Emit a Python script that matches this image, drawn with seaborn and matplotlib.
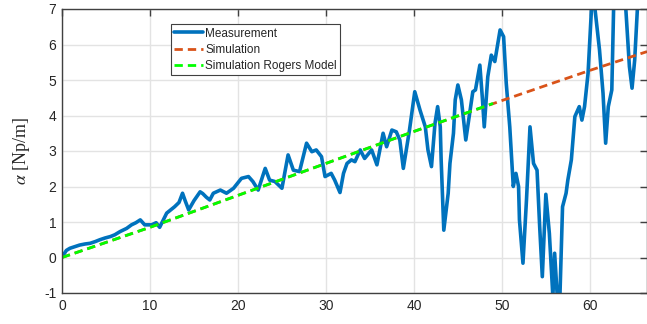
import numpy as np
import pandas as pd
import matplotlib
matplotlib.use("Agg")
import matplotlib.pyplot as plt
import seaborn as sns

meas_x = [0.0, 0.15, 0.5, 0.9, 1.4, 2.0, 2.6, 3.2, 3.8, 4.3, 4.9, 5.5, 6.0, 6.6, 7.35, 7.9, 8.4, 8.9,
          9.4, 10.2, 10.7, 11.1, 11.5, 11.9, 12.8, 13.3, 13.7, 14.0, 14.4, 15.0, 15.7, 16.0, 16.4, 16.8,
          17.2, 18.0, 18.7, 19.5, 20.4, 21.2, 21.7, 22.3, 23.1, 23.6, 24.2, 25.0, 25.7, 26.3, 27.0, 27.8,
          28.4, 28.9, 29.5, 29.9, 30.6, 31.0, 31.6, 32.0, 32.4, 32.9, 33.3, 33.9, 34.4, 35.2, 35.8, 36.5,
          36.9, 37.5, 38.0, 38.4, 38.8, 39.5, 40.1, 40.7, 41.3, 41.6, 42.0, 42.4, 42.7, 43.0, 43.1, 43.4,
          43.9, 44.1, 44.5, 44.7, 45.0, 45.4, 45.9, 46.4, 46.7, 47.0, 47.5, 47.8, 48.0, 48.4, 48.8, 49.2,
          49.8, 50.2, 50.5, 50.9, 51.3, 51.6, 51.9, 52.0, 52.4, 52.8, 53.2, 53.6, 54.0, 54.3, 54.6, 55.0,
          55.4, 55.8, 56.0, 56.3, 56.6, 56.9, 57.3, 57.5, 57.9, 58.3, 58.8, 59.1, 59.4, 59.8, 60.2, 60.4,
          60.6, 61.1, 61.5, 61.8, 62.1, 62.5, 62.7, 63.4, 64.1, 64.5, 64.8, 65.1, 65.4, 66.0, 66.5]
meas_y = [0.05, 0.07, 0.2, 0.26, 0.3, 0.35, 0.38, 0.4, 0.45, 0.5, 0.55, 0.59, 0.64, 0.73, 0.82, 0.92, 0.98, 1.06,
          0.92, 0.92, 0.98, 0.85, 1.05, 1.25, 1.43, 1.55, 1.81, 1.6, 1.34, 1.6, 1.85, 1.8, 1.7, 1.62,
          1.81, 1.9, 1.81, 1.95, 2.23, 2.28, 2.14, 1.9, 2.51, 2.18, 2.14, 1.95, 2.89, 2.46, 2.42, 3.22,
          2.98, 3.03, 2.84, 2.28, 2.37, 2.18, 1.83, 2.37, 2.65, 2.75, 2.7, 3.03, 2.79, 3.03, 2.61, 3.5,
          3.12, 3.59, 3.54, 3.31, 2.51, 3.59, 4.67, 4.15, 3.68, 3.03, 2.56, 3.78, 4.25, 3.68, 2.75, 0.77,
          1.81, 2.65, 3.5, 4.44, 4.86, 4.44, 3.31, 4.15, 4.67, 4.72, 5.42, 4.44, 3.68, 5.09, 5.7, 5.52,
          6.41, 6.22, 4.91, 3.68, 2.0, 2.37, 2.0, 1.06, -0.16, 1.62, 3.68, 2.65, 2.46, 0.87, -0.54, 1.78,
          0.68, -1.1, 0.12, -1.1, -1.1, 1.43, 1.81, 2.18, 2.75, 3.97, 4.25, 3.87, 4.25, 5.19, 7.06, 7.6,
          6.97, 5.85, 4.63, 3.22, 4.25, 4.72, 6.97, 8.0, 6.97, 5.38, 4.77, 5.56, 6.97, 7.8, 8.2]

# Simulation
sim_x = [0, 10, 20, 30, 40, 50, 60, 66.5]
sim_y = [0.0, 0.85, 1.75, 2.65, 3.55, 4.42, 5.27, 5.8]

# Simulation Rogers Model
rog_x = [0, 10, 20, 30, 40, 49]
rog_y = [0.0, 0.85, 1.75, 2.65, 3.55, 4.34]

xticks = [0, 10, 20, 30, 40, 50, 60]
yticks = [-1, 0, 1, 2, 3, 4, 5, 6, 7]

sns.set_style("white")
plt.rcParams['font.family'] = ['Liberation Sans', 'DejaVu Sans']
plt.rcParams['mathtext.fontset'] = 'stix'

fig = plt.figure(figsize=(6.47, 3.24), dpi=100)
ax = fig.add_axes([62 / 647, 31 / 324, 1.0 - 62 / 647, 284 / 324])

df_m = pd.DataFrame({"x": meas_x, "y": meas_y})
df_s = pd.DataFrame({"x": sim_x, "y": sim_y})
df_r = pd.DataFrame({"x": rog_x, "y": rog_y})

sns.lineplot(data=df_m, x="x", y="y", ax=ax, color="#0072BD", linewidth=2.6,
             estimator=None, sort=False, label="Measurement")
sns.lineplot(data=df_s, x="x", y="y", ax=ax, color="#D95319", linewidth=2.0,
             estimator=None, sort=False, label="Simulation", dashes=False)
sns.lineplot(data=df_r, x="x", y="y", ax=ax, color="#00FF00", linewidth=2.0,
             estimator=None, sort=False, label="Simulation Rogers Model", dashes=False)
lines = ax.get_lines()
lines[1].set_dashes((3, 1.8))
lines[2].set_dashes((3, 1.8))

ax.set_xlim(0, 66.5)
ax.set_ylim(-1, 7)
ax.set_xticks(xticks)
ax.set_yticks(yticks)
ax.set_xticklabels([str(t) for t in xticks])
ax.set_yticklabels([str(t) for t in yticks])
ax.grid(True, color="#e3e3e3", linewidth=1.0)
ax.set_axisbelow(True)
for s in ax.spines.values():
    s.set_color("#404040")
    s.set_linewidth(1.0)
ax.tick_params(direction="in", length=5, width=1, colors="#404040", labelcolor="#262626",
               labelsize=10, top=True, right=True, pad=4)
ax.set_xlabel("")
ax.set_ylabel(r"$\alpha$ [Np/m]", fontfamily="Liberation Serif", fontsize=13, labelpad=9, color="#262626")

leg = ax.legend(loc="upper left", bbox_to_anchor=(0.186, 0.947), borderaxespad=0,
                fontsize=8.5, frameon=True, fancybox=False, handlelength=2.4,
                handletextpad=0.2, labelspacing=0.35, borderpad=0.3)
leg.get_frame().set_edgecolor("#404040")
leg.get_frame().set_linewidth(0.8)
leg.get_frame().set_alpha(1.0)

fig.savefig("out.png", dpi=100)
